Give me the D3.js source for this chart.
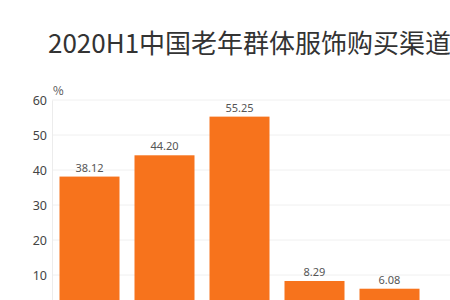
<!DOCTYPE html>
<html lang="zh">
<head>
    <meta charset="UTF-8">
    <title>2020H1中国老年群体服饰购买渠道</title>
    <script src="https://d3js.org/d3.v7.min.js"></script>
    <style>
        body { margin: 0; background: #fff; overflow: hidden; }
        text { font-family: "Noto Sans CJK SC", "Noto Sans", sans-serif; }
    </style>
</head>
<body>
    <svg id="chart" width="450" height="300"></svg>

    <script>
        // data (category names are cropped out of the reference)
        const categories = ["c1", "c2", "c3", "c4", "c5"];
        const values = [38.12, 44.20, 55.25, 8.29, 6.08];
        const labels = ["38.12", "44.20", "55.25", "8.29", "6.08"];
        const yTicks = [10, 20, 30, 40, 50, 60];

        const width = 450;
        const svg = d3.select("#chart");

        // the reference is cropped: zero line sits below the bottom edge
        const y = d3.scaleLinear().domain([0, 60]).range([310, 100]);
        const x = d3.scaleBand().domain(categories).range([52, 427]).paddingInner(0.2).paddingOuter(0.1);

        // title (runs past the right edge like the reference)
        svg.append("text")
            .attr("x", 48)
            .attr("y", 53)
            .attr("font-size", 26)
            .attr("fill", "#333")
            .text("2020H1中国老年群体服饰购买渠道分布");

        // grid lines
        svg.append("g")
            .selectAll("line")
            .data(yTicks)
            .enter()
            .append("line")
            .attr("x1", 52)
            .attr("x2", width)
            .attr("y1", d => y(d))
            .attr("y2", d => y(d))
            .attr("stroke", "#f0f0f0")
            .attr("stroke-width", 1);

        // y axis
        const yAxis = svg.append("g")
            .attr("transform", "translate(52,0)")
            .call(d3.axisLeft(y).tickValues(yTicks).tickSize(0).tickPadding(5));
        yAxis.select(".domain").attr("stroke", "#ececec");
        yAxis.selectAll("text")
            .attr("font-size", 12.5)
            .attr("fill", "#444")
            .style("font-family", "'Noto Sans', sans-serif");

        // unit
        svg.append("text")
            .attr("x", 53)
            .attr("y", 95)
            .attr("font-size", 11.5)
            .attr("fill", "#555")
            .text("%");

        // bars
        svg.append("g")
            .selectAll("rect")
            .data(values)
            .enter()
            .append("rect")
            .attr("x", (d, i) => x(categories[i]))
            .attr("y", d => y(d))
            .attr("width", x.bandwidth())
            .attr("height", d => y(0) - y(d))
            .attr("fill", "#f7731c");

        // value labels
        svg.append("g")
            .selectAll("text")
            .data(values)
            .enter()
            .append("text")
            .attr("x", (d, i) => x(categories[i]) + x.bandwidth() / 2)
            .attr("y", d => y(d) - 5)
            .attr("text-anchor", "middle")
            .attr("font-size", 11)
            .attr("fill", "#555")
            .style("font-family", "'Noto Sans', sans-serif")
            .text((d, i) => labels[i]);
    </script>
</body>
</html>
